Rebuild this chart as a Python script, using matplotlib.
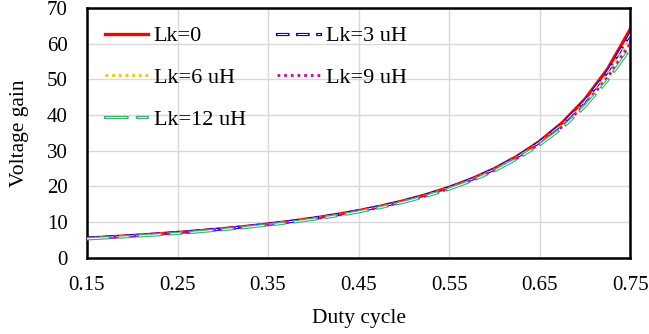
import numpy as np
import matplotlib.pyplot as plt
import matplotlib.patheffects as pe

plt.rcParams['font.family'] = ['Liberation Serif', 'DejaVu Serif']
plt.rcParams['lines.scale_dashes'] = False

# Duty cycle
duty = [0.15, 0.175, 0.2, 0.225, 0.25, 0.275, 0.3, 0.325, 0.35, 0.375, 0.4, 0.425,
        0.45, 0.475, 0.5, 0.525, 0.55, 0.575, 0.6, 0.625, 0.65, 0.675, 0.7, 0.725, 0.75]

# Voltage gain
gain_lk0 = [5.54, 5.88, 6.25, 6.66, 7.11, 7.61, 8.16, 8.78, 9.47, 10.24, 11.11, 12.10,
            13.22, 14.51, 16.00, 17.73, 19.75, 22.14, 25.00, 28.44, 32.65, 37.87, 44.44, 52.89, 64.0]
gain_lk3 = [5.49, 5.82, 6.19, 6.60, 7.05, 7.54, 8.10, 8.72, 9.40, 10.17, 11.03, 12.02,
            13.14, 14.42, 15.90, 17.62, 19.63, 22.00, 24.85, 28.26, 32.41, 37.49, 43.94, 52.10, 62.65]
gain_lk6 = [5.43, 5.77, 6.13, 6.54, 6.98, 7.48, 8.04, 8.65, 9.33, 10.09, 10.96, 11.94,
            13.05, 14.33, 15.80, 17.51, 19.51, 21.87, 24.69, 28.09, 32.16, 37.12, 43.44, 51.31, 61.3]
gain_lk9 = [5.38, 5.71, 6.07, 6.47, 6.92, 7.41, 7.98, 8.59, 9.26, 10.02, 10.88, 11.85,
            12.97, 14.24, 15.70, 17.40, 19.38, 21.73, 24.54, 27.91, 31.92, 36.74, 42.94, 50.51, 59.95]
gain_lk12 = [5.32, 5.65, 6.01, 6.41, 6.85, 7.34, 7.92, 8.52, 9.19, 9.94, 10.80, 11.77,
             12.88, 14.15, 15.60, 17.29, 19.26, 21.59, 24.38, 27.73, 31.67, 36.36, 42.44, 49.72, 58.6]

xticks = [0.15, 0.25, 0.35, 0.45, 0.55, 0.65, 0.75]
yticks = [0, 10, 20, 30, 40, 50, 60, 70]

fig = plt.figure(figsize=(6.49, 3.34), dpi=100)
ax = fig.add_axes([0.134, 0.228, 0.837, 0.748])


def hollow(color):
    # outlined dash look, like the Excel line style
    return [pe.Stroke(linewidth=2.3, foreground=color, capstyle='projecting'), pe.Normal()]


l0, = ax.plot(duty, gain_lk0, color='#ff0000', lw=2.4, label='Lk=0', zorder=2)
l3, = ax.plot(duty, gain_lk3, color='white', lw=0.7, ls=(0, (7.5, 7)),
              path_effects=hollow('#0000ff'), label='Lk=3 uH', zorder=3)
l6, = ax.plot(duty, gain_lk6, color='#ffc000', lw=2.0, ls=(0, (2, 2.8)),
              label='Lk=6 uH', zorder=4)
l9, = ax.plot(duty, gain_lk9, color='#d000b0', lw=2.0, ls=(0, (2, 2.8)),
              label='Lk=9 uH', zorder=5)
l12, = ax.plot(duty, gain_lk12, color='white', lw=0.7, ls=(0, (15.5, 7.5, 7, 7.5)),
               path_effects=hollow('#3cb371'), label='Lk=12 uH', zorder=6)

ax.set_xlim(0.15, 0.75)
ax.set_ylim(0, 70)
ax.set_xticks(xticks)
ax.set_xticklabels([f'{t:.2f}' for t in xticks])
ax.set_yticks(yticks)
ax.grid(True, color='#d9d9d9', lw=1)
ax.set_axisbelow(True)
for s in ax.spines.values():
    s.set_linewidth(1.8)
    s.set_color('black')
ax.tick_params(length=0, labelsize=15)
ax.tick_params(axis='x', pad=13)
ax.tick_params(axis='y', pad=14)
ax.set_xlabel('Duty cycle', fontsize=15.5, labelpad=10)
ax.set_ylabel('Voltage gain', fontsize=15.5, labelpad=13)

# row-wise legend order (matplotlib fills columns first)
handles = [l0, l6, l12, l3, l9]
ax.legend(handles=handles, labels=[h.get_label() for h in handles],
          loc='upper left', ncol=2, frameon=False, fontsize=16,
          handlelength=1.95, handletextpad=0.25, columnspacing=1.4,
          labelspacing=0.95, borderaxespad=0.4)

fig.savefig('out.png', dpi=100)
